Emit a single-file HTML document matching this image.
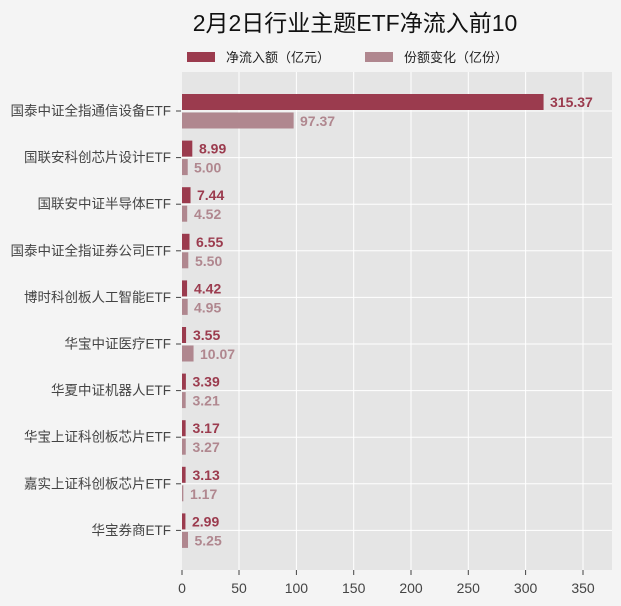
<!DOCTYPE html>
<html><head><meta charset="utf-8"><style>
body{margin:0;background:#f4f4f4;}
svg{display:block;font-family:"Liberation Sans","Noto Sans CJK SC",sans-serif;}
.l{fill:#444;text-anchor:end;font-size:13.5px}
.a{fill:#9b3b4e;font-weight:bold;font-size:14px}
.b{fill:#b0878f;font-weight:bold;font-size:14px}
</style></head><body>
<svg width="621" height="606" viewBox="0 0 621 606">
<rect width="621" height="606" fill="#f4f4f4"/>
<text x="355" y="31" font-size="23" text-anchor="middle" fill="#111">2月2日行业主题ETF净流入前10</text>
<rect x="187" y="52" width="28" height="10" fill="#9b3b4e"/>
<text x="226" y="62" font-size="13" fill="#222">净流入额（亿元）</text>
<rect x="365" y="52" width="28" height="10" fill="#b0878f"/>
<text x="404" y="62" font-size="13" fill="#222">份额变化（亿份）</text>
<rect x="182" y="72" width="430" height="498" fill="#e5e5e5"/>
<g stroke="#fff" stroke-width="1">
<line x1="239" y1="72" x2="239" y2="570"/><line x1="296.4" y1="72" x2="296.4" y2="570"/>
<line x1="353.7" y1="72" x2="353.7" y2="570"/><line x1="411" y1="72" x2="411" y2="570"/>
<line x1="468.3" y1="72" x2="468.3" y2="570"/><line x1="525.6" y1="72" x2="525.6" y2="570"/>
<line x1="583" y1="72" x2="583" y2="570"/>
<line x1="182" y1="111" x2="612" y2="111"/><line x1="182" y1="157.6" x2="612" y2="157.6"/>
<line x1="182" y1="204.2" x2="612" y2="204.2"/><line x1="182" y1="250.8" x2="612" y2="250.8"/>
<line x1="182" y1="297.4" x2="612" y2="297.4"/><line x1="182" y1="344" x2="612" y2="344"/>
<line x1="182" y1="390.6" x2="612" y2="390.6"/><line x1="182" y1="437.2" x2="612" y2="437.2"/>
<line x1="182" y1="483.8" x2="612" y2="483.8"/><line x1="182" y1="530.4" x2="612" y2="530.4"/>
</g>

<g transform="translate(0,111)"><text class="l" x="171" y="4.5">国泰中证全指通信设备ETF</text><line x1="176" x2="181" stroke="#444"/><rect x="182" y="-17" width="361.57" height="16" fill="#9b3b4e"/><rect x="182" y="1.5" width="111.64" height="16" fill="#b0878f"/><text class="a" x="550" y="-4">315.37</text><text class="b" x="300" y="15">97.37</text></g>
<g transform="translate(0,157.6)"><text class="l" x="171" y="4.5">国联安科创芯片设计ETF</text><line x1="176" x2="181" stroke="#444"/><rect x="182" y="-17" width="10.31" height="16" fill="#9b3b4e"/><rect x="182" y="1.5" width="5.73" height="16" fill="#b0878f"/><text class="a" x="199" y="-4">8.99</text><text class="b" x="194" y="15">5.00</text></g>
<g transform="translate(0,204.2)"><text class="l" x="171" y="4.5">国联安中证半导体ETF</text><line x1="176" x2="181" stroke="#444"/><rect x="182" y="-17" width="8.53" height="16" fill="#9b3b4e"/><rect x="182" y="1.5" width="5.18" height="16" fill="#b0878f"/><text class="a" x="197" y="-4">7.44</text><text class="b" x="194" y="15">4.52</text></g>
<g transform="translate(0,250.8)"><text class="l" x="171" y="4.5">国泰中证全指证券公司ETF</text><line x1="176" x2="181" stroke="#444"/><rect x="182" y="-17" width="7.51" height="16" fill="#9b3b4e"/><rect x="182" y="1.5" width="6.31" height="16" fill="#b0878f"/><text class="a" x="196" y="-4">6.55</text><text class="b" x="195" y="15">5.50</text></g>
<g transform="translate(0,297.4)"><text class="l" x="171" y="4.5">博时科创板人工智能ETF</text><line x1="176" x2="181" stroke="#444"/><rect x="182" y="-17" width="5.07" height="16" fill="#9b3b4e"/><rect x="182" y="1.5" width="5.68" height="16" fill="#b0878f"/><text class="a" x="194" y="-4">4.42</text><text class="b" x="194" y="15">4.95</text></g>
<g transform="translate(0,344)"><text class="l" x="171" y="4.5">华宝中证医疗ETF</text><line x1="176" x2="181" stroke="#444"/><rect x="182" y="-17" width="4.07" height="16" fill="#9b3b4e"/><rect x="182" y="1.5" width="11.55" height="16" fill="#b0878f"/><text class="a" x="193" y="-4">3.55</text><text class="b" x="200" y="15">10.07</text></g>
<g transform="translate(0,390.6)"><text class="l" x="171" y="4.5">华夏中证机器人ETF</text><line x1="176" x2="181" stroke="#444"/><rect x="182" y="-17" width="3.89" height="16" fill="#9b3b4e"/><rect x="182" y="1.5" width="3.68" height="16" fill="#b0878f"/><text class="a" x="192.5" y="-4">3.39</text><text class="b" x="192.5" y="15">3.21</text></g>
<g transform="translate(0,437.2)"><text class="l" x="171" y="4.5">华宝上证科创板芯片ETF</text><line x1="176" x2="181" stroke="#444"/><rect x="182" y="-17" width="3.63" height="16" fill="#9b3b4e"/><rect x="182" y="1.5" width="3.75" height="16" fill="#b0878f"/><text class="a" x="192.5" y="-4">3.17</text><text class="b" x="192.5" y="15">3.27</text></g>
<g transform="translate(0,483.8)"><text class="l" x="171" y="4.5">嘉实上证科创板芯片ETF</text><line x1="176" x2="181" stroke="#444"/><rect x="182" y="-17" width="3.59" height="16" fill="#9b3b4e"/><rect x="182" y="1.5" width="1.34" height="16" fill="#b0878f"/><text class="a" x="192.5" y="-4">3.13</text><text class="b" x="190" y="15">1.17</text></g>
<g transform="translate(0,530.4)"><text class="l" x="171" y="4.5">华宝券商ETF</text><line x1="176" x2="181" stroke="#444"/><rect x="182" y="-17" width="3.43" height="16" fill="#9b3b4e"/><rect x="182" y="1.5" width="6.02" height="16" fill="#b0878f"/><text class="a" x="192" y="-4">2.99</text><text class="b" x="194.5" y="15">5.25</text></g>

<g font-size="14" fill="#444" text-anchor="middle">
<text x="182" y="593">0</text><text x="239" y="593">50</text><text x="296.4" y="593">100</text>
<text x="353.7" y="593">150</text><text x="411" y="593">200</text><text x="468.3" y="593">250</text>
<text x="525.6" y="593">300</text><text x="583" y="593">350</text>
</g>
<g stroke="#444"><line x1="182" y1="570" x2="182" y2="575"/><line x1="239" y1="570" x2="239" y2="575"/><line x1="296.4" y1="570" x2="296.4" y2="575"/><line x1="353.7" y1="570" x2="353.7" y2="575"/><line x1="411" y1="570" x2="411" y2="575"/><line x1="468.3" y1="570" x2="468.3" y2="575"/><line x1="525.6" y1="570" x2="525.6" y2="575"/><line x1="583" y1="570" x2="583" y2="575"/></g>
</svg>
</body></html>
